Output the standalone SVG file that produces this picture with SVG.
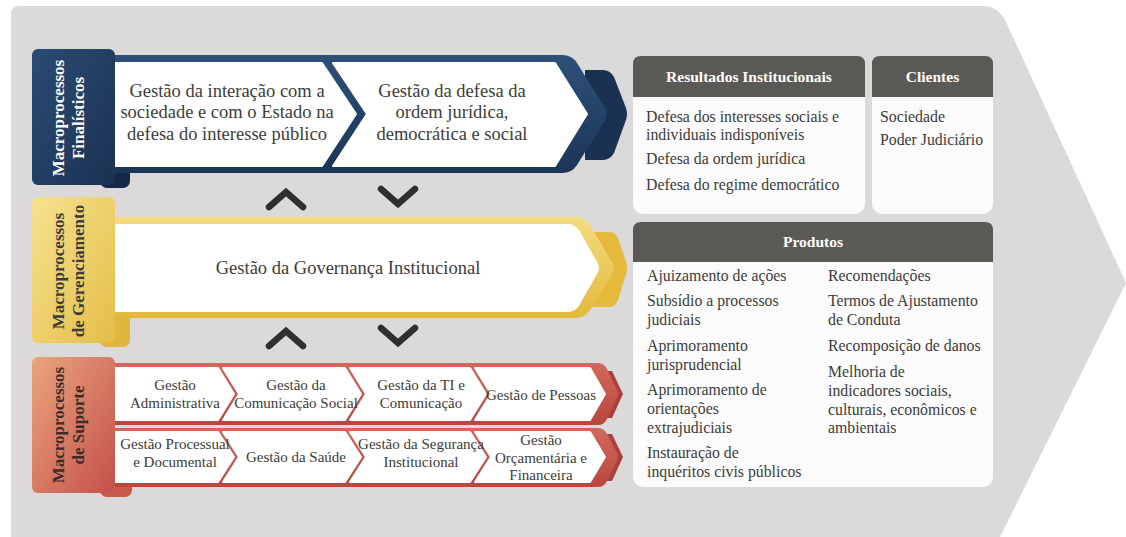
<svg xmlns="http://www.w3.org/2000/svg" width="1126" height="537" viewBox="0 0 1126 537">
<defs>
<linearGradient id="navyBand" x1="0" y1="0" x2="0" y2="1"><stop offset="0" stop-color="#2e5079"/><stop offset="1" stop-color="#1b3557"/></linearGradient>
<linearGradient id="navyTab" x1="0" y1="0" x2="1" y2="1"><stop offset="0" stop-color="#2b4b73"/><stop offset="1" stop-color="#1a3253"/></linearGradient>
<linearGradient id="goldBand" x1="0" y1="0" x2="0" y2="1"><stop offset="0" stop-color="#f4dc80"/><stop offset="1" stop-color="#e2b93c"/></linearGradient>
<linearGradient id="goldTab" x1="0" y1="0" x2="1" y2="1"><stop offset="0" stop-color="#f6e291"/><stop offset="1" stop-color="#e4bd46"/></linearGradient>
<linearGradient id="redBand" x1="0" y1="0" x2="0" y2="1"><stop offset="0" stop-color="#d2685d"/><stop offset="1" stop-color="#b8463f"/></linearGradient>
<linearGradient id="redTab" x1="0" y1="0" x2="1" y2="1"><stop offset="0" stop-color="#eaa57e"/><stop offset="1" stop-color="#c4504a"/></linearGradient>
<style>
.t{font-family:'Liberation Serif',serif;fill:#3c3c3c}
.big{font-size:18.5px;text-anchor:middle}
.cell{font-size:15px;text-anchor:middle}
.tab{font-size:17px;font-weight:bold;text-anchor:middle}
.lst{font-size:15.8px}
.hdr{font-family:'Liberation Serif',serif;font-size:15.5px;font-weight:bold;fill:#ffffff;text-anchor:middle}
.white{fill:#ffffff}
.body{fill:#fbfbfb}
.head{fill:#5b5955}
.arr{fill:none;stroke:#2f2f2f;stroke-width:6.5;stroke-linecap:round;stroke-linejoin:miter}
.wcell{fill:#ffffff;stroke:#ffffff;stroke-width:2;stroke-linejoin:round}
</style>
</defs>

<rect x="0" y="0" width="1126" height="537" fill="#ffffff"/>
<path d="M11,14 Q11,6 19,6 H983 Q998,6 1006,22 L1126,283 L1000,537 H11 Z" fill="#dbd9d9"/>

<g id="finalisticos">
  <rect x="100" y="150" width="30" height="38" rx="7" fill="#14294a"/>
  <path d="M585,70 H603 Q610,70 614,77 L626,108 Q628,114 626,120 L614,153 Q610,160 603,160 H585 Z" fill="#1a3152"/>
  <path d="M110,55 H562 Q572,55 577,63 L605,108 Q608,114 605,120 L577,165 Q572,173 562,173 H110 Z" fill="url(#navyBand)"/>
  <path class="wcell" d="M115,63 H322 L356,114 L322,166 H115 Z"/>
  <path class="wcell" d="M333,63 H555 L587,114 L555,166 H333 L367,114 Z"/>
  <rect x="32" y="49" width="83" height="136" rx="6" fill="url(#navyTab)"/>
  <text class="t tab" style="fill:#ffffff" transform="translate(63.5,118) rotate(-90)">Macroprocessos</text>
  <text class="t tab" style="fill:#ffffff" transform="translate(84,118) rotate(-90)">Finalísticos</text>
  <text class="t big" x="227" y="96.5">Gestão da interação com a</text>
  <text class="t big" x="227" y="118">sociedade e com o Estado na</text>
  <text class="t big" x="227" y="139.5">defesa do interesse público</text>
  <text class="t big" x="452" y="96.5">Gestão da defesa da</text>
  <text class="t big" x="452" y="118">ordem jurídica,</text>
  <text class="t big" x="452" y="139.5">democrática e social</text>
</g>

<g id="gerenciamento">
  <rect x="100" y="305" width="30" height="42" rx="7" fill="#e0b63c"/>
  <path d="M590,232 H610 Q615,232 618,238 L626,262 Q628,268 626,274 L618,300 Q615,307 610,307 H590 Z" fill="#e4b93c"/>
  <path d="M110,217 H575 Q585,217 590,225 L612,262 Q616,268 612,274 L590,310 Q585,318 575,318 H110 Z" fill="url(#goldBand)"/>
  <path class="wcell" d="M115,225 H568 Q575,225 579,232 L597,264 Q599,268 597,272 L579,304 Q575,311 568,311 H115 Z"/>
  <rect x="32" y="197" width="83" height="146" rx="6" fill="url(#goldTab)"/>
  <text class="t tab" transform="translate(63.5,271) rotate(-90)">Macroprocessos</text>
  <text class="t tab" transform="translate(84,271) rotate(-90)">de Gerenciamento</text>
  <text class="t big" x="348" y="274">Gestão da Governança Institucional</text>
</g>

<g id="suporte">
  <rect x="100" y="470" width="32" height="27" rx="7" fill="#c85a4c"/>
  <path d="M598,371 H612 L623,394 L612,418 H598 Z" fill="#a9423c"/>
  <path d="M598,434 H612 L623,457 L612,481 H598 Z" fill="#a9423c"/>
  <path d="M110,363 H598 Q604,363 607,369 L617,390 Q619,394 617,398 L607,419 Q604,425 598,425 H110 Z" fill="url(#redBand)"/>
  <path d="M110,428 H598 Q604,428 607,434 L617,453 Q619,457 617,461 L607,481 Q604,487 598,487 H110 Z" fill="url(#redBand)"/>
  <path class="wcell" d="M115,368 H218 L234,394 L218,420 H115 Z"/>
  <path class="wcell" d="M223,368 H345 L361,394 L345,420 H223 L239,394 Z"/>
  <path class="wcell" d="M350,368 H470 L486,394 L470,420 H350 L366,394 Z"/>
  <path class="wcell" d="M475,368 H590 L605,394 L590,420 H475 L491,394 Z"/>
  <path class="wcell" d="M115,432 H218 L234,457 L218,482 H115 Z"/>
  <path class="wcell" d="M223,432 H345 L361,457 L345,482 H223 L239,457 Z"/>
  <path class="wcell" d="M350,432 H470 L486,457 L470,482 H350 L366,457 Z"/>
  <path class="wcell" d="M475,432 H590 L605,457 L590,482 H475 L491,457 Z"/>
  <rect x="32" y="357" width="83" height="136" rx="6" fill="url(#redTab)"/>
  <text class="t tab" style="fill:#3a2d29" transform="translate(63.5,425) rotate(-90)">Macroprocessos</text>
  <text class="t tab" style="fill:#3a2d29" transform="translate(84,425) rotate(-90)">de Suporte</text>
  <text class="t cell" x="175" y="390">Gestão</text>
  <text class="t cell" x="175" y="408">Administrativa</text>
  <text class="t cell" x="296" y="390">Gestão da</text>
  <text class="t cell" x="296" y="408">Comunicação Social</text>
  <text class="t cell" x="421" y="390">Gestão da TI e</text>
  <text class="t cell" x="421" y="408">Comunicação</text>
  <text class="t cell" x="541" y="400">Gestão de Pessoas</text>
  <text class="t cell" x="175" y="449">Gestão Processual</text>
  <text class="t cell" x="175" y="467">e Documental</text>
  <text class="t cell" x="296" y="462">Gestão da Saúde</text>
  <text class="t cell" x="421" y="449">Gestão da Segurança</text>
  <text class="t cell" x="421" y="467">Institucional</text>
  <text class="t cell" x="541" y="445">Gestão</text>
  <text class="t cell" x="541" y="462.5">Orçamentária e</text>
  <text class="t cell" x="541" y="480">Financeira</text>
</g>

<g id="resultados">
  <rect class="body" x="633" y="56" width="232" height="158" rx="10"/>
  <path class="head" d="M633,97 V64 Q633,56 641,56 H857 Q865,56 865,64 V97 Z"/>
  <text class="hdr" x="749" y="82">Resultados Institucionais</text>
  <text class="t lst" x="646" y="122">Defesa dos interesses sociais e</text>
  <text class="t lst" x="646" y="140">individuais indisponíveis</text>
  <text class="t lst" x="646" y="164">Defesa da ordem jurídica</text>
  <text class="t lst" x="646" y="190">Defesa do regime democrático</text>
</g>

<g id="clientes">
  <rect class="body" x="872" y="56" width="121" height="158" rx="10"/>
  <path class="head" d="M872,97 V64 Q872,56 880,56 H985 Q993,56 993,64 V97 Z"/>
  <text class="hdr" x="932.5" y="82">Clientes</text>
  <text class="t lst" x="880" y="122">Sociedade</text>
  <text class="t lst" x="880" y="145">Poder Judiciário</text>
</g>

<g id="produtos">
  <rect class="body" x="633" y="222" width="360" height="265" rx="10"/>
  <path class="head" d="M633,262 V230 Q633,222 641,222 H985 Q993,222 993,230 V262 Z"/>
  <text class="hdr" x="813" y="247">Produtos</text>
  <text class="t lst" x="647" y="281">Ajuizamento de ações</text>
  <text class="t lst" x="647" y="306">Subsídio a processos</text>
  <text class="t lst" x="647" y="325">judiciais</text>
  <text class="t lst" x="647" y="351">Aprimoramento</text>
  <text class="t lst" x="647" y="370">jurisprudencial</text>
  <text class="t lst" x="647" y="395">Aprimoramento de</text>
  <text class="t lst" x="647" y="414">orientações</text>
  <text class="t lst" x="647" y="433">extrajudiciais</text>
  <text class="t lst" x="647" y="458">Instauração de</text>
  <text class="t lst" x="647" y="477">inquéritos civis públicos</text>
  <text class="t lst" x="828" y="281">Recomendações</text>
  <text class="t lst" x="828" y="306">Termos de Ajustamento</text>
  <text class="t lst" x="828" y="325">de Conduta</text>
  <text class="t lst" x="828" y="351">Recomposição de danos</text>
  <text class="t lst" x="828" y="377">Melhoria de</text>
  <text class="t lst" x="828" y="396">indicadores sociais,</text>
  <text class="t lst" x="828" y="415">culturais, econômicos e</text>
  <text class="t lst" x="828" y="433">ambientais</text>
</g>

<g id="connectors">
  <path class="arr" d="M269,207 L286,192 L303,207"/>
  <path class="arr" d="M381,189 L398,204 L415,189"/>
  <path class="arr" d="M269,346 L286,331 L303,346"/>
  <path class="arr" d="M381,328 L398,343 L415,328"/>
</g>
</svg>
